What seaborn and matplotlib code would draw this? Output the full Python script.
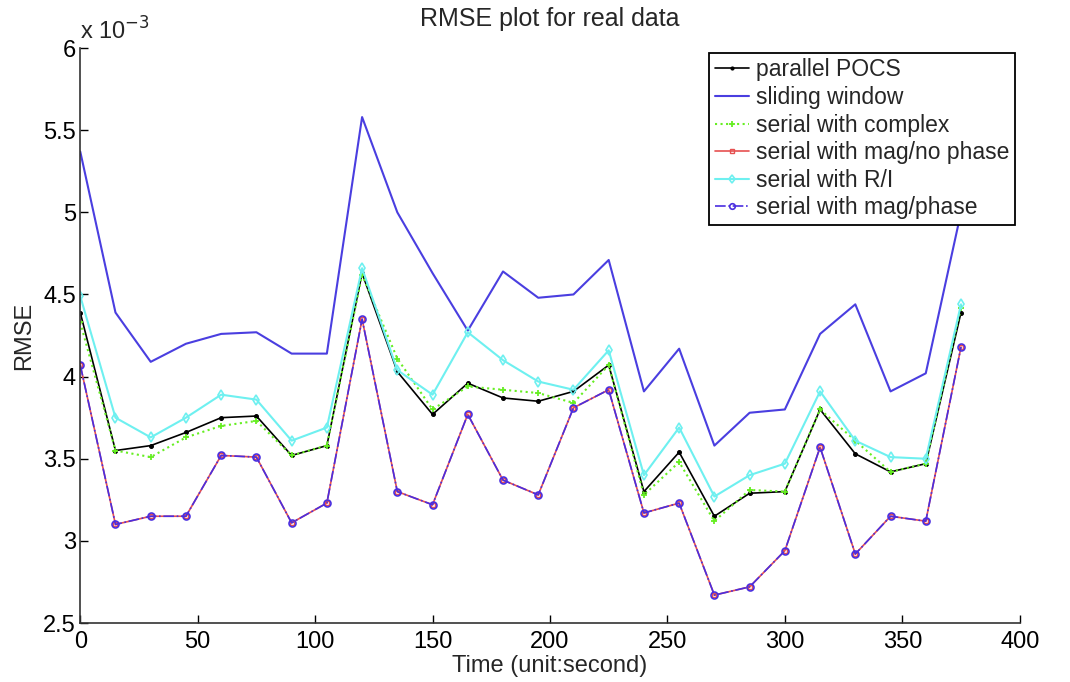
import numpy as np
import pandas as pd
import matplotlib
matplotlib.use("Agg")
import matplotlib.pyplot as plt
import seaborn as sns
from matplotlib.ticker import FuncFormatter

# time axis (seconds)
time_s = [0, 15, 30, 45, 60, 75, 90, 105, 120, 135, 150, 165, 180, 195,
          210, 225, 240, 255, 270, 285, 300, 315, 330, 345, 360, 375]

# RMSE values, in units of 1e-3
parallel_pocs = [4.39, 3.55, 3.58, 3.66, 3.75, 3.76, 3.52, 3.58, 4.63, 4.03,
                 3.77, 3.96, 3.87, 3.85, 3.91, 4.07, 3.30, 3.54, 3.15, 3.29,
                 3.30, 3.80, 3.53, 3.42, 3.47, 4.39]
sliding_window = [5.37, 4.39, 4.09, 4.20, 4.26, 4.27, 4.14, 4.14, 5.58, 5.00,
                  4.63, 4.28, 4.64, 4.48, 4.50, 4.71, 3.91, 4.17, 3.58, 3.78,
                  3.80, 4.26, 4.44, 3.91, 4.02, 5.00]
serial_complex = [4.33, 3.55, 3.51, 3.63, 3.70, 3.73, 3.52, 3.58, 4.62, 4.11,
                  3.80, 3.94, 3.92, 3.90, 3.84, 4.07, 3.28, 3.48, 3.12, 3.31,
                  3.30, 3.80, 3.61, 3.42, 3.47, 4.42]
serial_mag_nophase = [4.07, 3.10, 3.15, 3.15, 3.52, 3.51, 3.11, 3.23, 4.35, 3.30,
                      3.22, 3.77, 3.37, 3.28, 3.81, 3.92, 3.17, 3.23, 2.67, 2.72,
                      2.94, 3.57, 2.92, 3.15, 3.12, 4.18]
serial_ri = [4.49, 3.75, 3.63, 3.75, 3.89, 3.86, 3.61, 3.69, 4.66, 4.04,
             3.89, 4.27, 4.10, 3.97, 3.92, 4.16, 3.40, 3.69, 3.27, 3.40,
             3.47, 3.91, 3.61, 3.51, 3.50, 4.44]
serial_mag_phase = [4.07, 3.10, 3.15, 3.15, 3.52, 3.51, 3.11, 3.23, 4.35, 3.30,
                    3.22, 3.77, 3.37, 3.28, 3.81, 3.92, 3.17, 3.23, 2.67, 2.72,
                    2.94, 3.57, 2.92, 3.15, 3.12, 4.18]

labels = ["parallel POCS", "sliding window", "serial with complex",
          "serial with mag/no phase", "serial with R/I", "serial with mag/phase"]

sns.set_style("ticks")
plt.rcParams['font.family'] = ['Liberation Sans', 'DejaVu Sans']
plt.rcParams['xtick.direction'] = 'in'
plt.rcParams['ytick.direction'] = 'in'

fig = plt.figure(figsize=(10.7, 6.82), dpi=100)
ax = fig.add_axes([0.075, 0.0865, 0.878, 0.843])

black = "black"
blue = "#4a3ee0"
green = "#66ee22"
red = "#e65050"
cyan = "#6ef0f0"
purple = "#4a2ee0"

series = [
    (parallel_pocs, dict(color=black, linestyle="-", marker="o", markersize=2.8,
                         markerfacecolor=black, markeredgecolor=black, linewidth=1.2)),
    (sliding_window, dict(color=blue, linestyle="-", linewidth=1.5)),
    (serial_complex, dict(color=green, linestyle=":", marker="+", markersize=5,
                          markeredgecolor=green, markeredgewidth=1.3, linewidth=1.5)),
    (serial_mag_nophase, dict(color=red, linestyle="-", marker="s", markersize=3.5,
                              markerfacecolor="none", markeredgecolor=red,
                              markeredgewidth=1.0, linewidth=1.2)),
    (serial_ri, dict(color=cyan, linestyle="-", marker="d", markersize=5.5,
                     markerfacecolor="none", markeredgecolor=cyan,
                     markeredgewidth=1.2, linewidth=1.5)),
    (serial_mag_phase, dict(color=purple, linestyle="-.", marker="o", markersize=5,
                            markerfacecolor="none", markeredgecolor=purple,
                            markeredgewidth=1.2, linewidth=1.2)),
]

for (vals, style), lab in zip(series, labels):
    df = pd.DataFrame({"time": time_s, "rmse": vals})
    sns.lineplot(data=df, x="time", y="rmse", ax=ax, label=lab, **style)

ax.set_xlim(0, 400)
ax.set_ylim(2.5, 6.0)
ax.set_xticks(np.arange(0, 401, 50))
ax.set_yticks([2.5, 3, 3.5, 4, 4.5, 5, 5.5, 6])
ax.yaxis.set_major_formatter(FuncFormatter(lambda v, p: f"{v:g}"))
ax.tick_params(axis='both', labelsize=17, length=6, width=1, colors='black', pad=3)
ax.tick_params(axis='x', pad=6)
sns.despine(ax=ax, top=True, right=True)
for s in ("left", "bottom"):
    ax.spines[s].set_linewidth(1.2)
    ax.spines[s].set_color("#333333")

ax.set_title("RMSE plot for real data", fontsize=18, pad=16)
ax.set_xlabel("Time (unit:second)", fontsize=17, labelpad=1)
ax.set_ylabel("RMSE", fontsize=17, labelpad=6)
ax.text(0.0, 1.006, r"x 10$^{-3}$", transform=ax.transAxes, fontsize=17,
        ha="left", va="bottom")

leg = ax.legend(loc="upper right", bbox_to_anchor=(0.995, 0.992), fontsize=16.5,
                frameon=True, fancybox=False, edgecolor="black",
                handlelength=1.5, handletextpad=0.3, labelspacing=0.2,
                borderpad=0.25, borderaxespad=0.0, markerscale=0.8)
leg.get_frame().set_linewidth(1.3)
leg.get_frame().set_alpha(1.0)

fig.savefig("out.png", dpi=100)
